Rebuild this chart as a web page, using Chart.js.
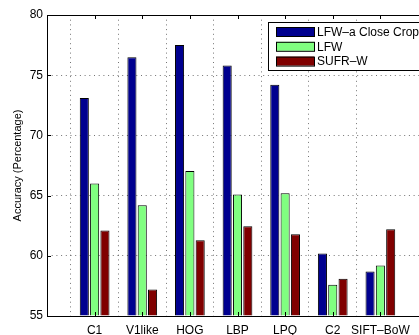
<!DOCTYPE html>
<html>
<head>
<meta charset="utf-8">
<script src="https://cdn.jsdelivr.net/npm/chart.js@4/dist/chart.umd.min.js"></script>
<style>
  html, body { margin: 0; padding: 0; background: #fff; }
  #wrap { width: 419px; height: 335px; overflow: hidden; position: relative; }
  canvas { display: block; }
</style>
</head>
<body>
<div id="wrap"><canvas id="c" width="460" height="335" style="width:460px;height:335px"></canvas></div>
<script>
// Face descriptors compared on three datasets
const categories = ['C1', 'V1like', 'HOG', 'LBP', 'LPQ', 'C2', 'SIFT–BoW'];
const seriesNames = ['LFW–a Close Crop', 'LFW', 'SUFR–W'];
const lfwCloseCrop = [73.1, 76.5, 77.5, 75.8, 74.2, 60.2, 58.7];
const lfw = [66.0, 64.2, 67.05, 65.1, 65.2, 57.6, 59.2];
const sufrW = [62.1, 57.2, 61.3, 62.45, 61.8, 58.1, 62.2];
const yTicks = [55, 60, 65, 70, 75, 80];
const seriesColors = ['#00008f', '#80ff80', '#800000'];

// one empty slot on each side so the bars sit one unit in from the frame
const pad = arr => [null, ...arr, null];
const labels = ['', ...categories, ''];
const values = [lfwCloseCrop, lfw, sufrW];

const FONT = 'Liberation Sans, Arial, Helvetica, sans-serif';

// Boxed axes frame with short inward ticks
const framePlugin = {
  id: 'frame',
  afterDatasetsDraw(chart) {
    const { ctx, chartArea: a, scales } = chart;
    ctx.save();
    ctx.strokeStyle = '#000';
    ctx.lineWidth = 1;
    ctx.beginPath();
    ctx.rect(Math.round(a.left) + 0.5, Math.round(a.top) + 0.5,
             Math.round(a.right - a.left), Math.round(a.bottom - a.top));
    ctx.stroke();
    const tl = 4;
    ctx.beginPath();
    yTicks.forEach(v => {
      const y = Math.round(scales.y.getPixelForValue(v)) + 0.5;
      ctx.moveTo(a.left, y); ctx.lineTo(a.left + tl, y);
      ctx.moveTo(a.right, y); ctx.lineTo(a.right - tl, y);
    });
    categories.forEach((c, i) => {
      const x = Math.round(scales.x.getPixelForValue(i + 1)) + 0.5;
      ctx.moveTo(x, a.top); ctx.lineTo(x, a.top + tl);
      ctx.moveTo(x, a.bottom); ctx.lineTo(x, a.bottom - tl);
    });
    ctx.stroke();
    ctx.restore();
  }
};

// Legend box in the upper right of the plot
const boxLegend = {
  id: 'boxLegend',
  afterDraw(chart, args, opts) {
    const { ctx } = chart;
    ctx.save();
    ctx.fillStyle = '#fff';
    ctx.strokeStyle = '#000';
    ctx.lineWidth = 1;
    ctx.fillRect(opts.x, opts.y, opts.w, opts.h);
    ctx.strokeRect(opts.x + 0.5, opts.y + 0.5, opts.w, opts.h);
    ctx.font = '12px ' + FONT;
    ctx.textBaseline = 'middle';
    chart.data.datasets.forEach((ds, i) => {
      const y = opts.y + opts.firstRow + i * opts.rowStep;
      ctx.fillStyle = ds.backgroundColor;
      ctx.fillRect(opts.x + opts.swX, y, opts.swW, opts.swH);
      ctx.strokeStyle = '#000';
      ctx.strokeRect(opts.x + opts.swX + 0.5, y + 0.5, opts.swW, opts.swH);
      ctx.fillStyle = '#000';
      ctx.fillText(ds.label, opts.x + opts.textX, y + opts.swH / 2 + 1);
    });
    ctx.restore();
  }
};

new Chart(document.getElementById('c'), {
  type: 'bar',
  data: {
    labels: labels,
    datasets: values.map((v, i) => ({
      label: seriesNames[i],
      data: pad(v),
      backgroundColor: seriesColors[i],
      borderColor: '#000',
      borderWidth: 1,
      borderSkipped: 'bottom',
      base: yTicks[0],
      categoryPercentage: 0.65,
      barPercentage: 0.88
    }))
  },
  options: {
    responsive: false,
    animation: false,
    devicePixelRatio: 1,
    layout: { padding: { left: 0, top: 15, right: 32, bottom: 0 } },
    plugins: {
      legend: { display: false },
      tooltip: { enabled: false },
      boxLegend: { x: 268, y: 22, w: 200, h: 48, swX: 8, swW: 38, swH: 9,
                   firstRow: 5, rowStep: 14.8, textX: 49 }
    },
    scales: {
      x: {
        offset: false,
        grid: {
          color: ctx => (ctx.index === 0 || ctx.index === labels.length - 1) ? 'rgba(0,0,0,0)' : 'rgba(0,0,0,0.55)',
          drawTicks: false
        },
        border: { display: false, dash: [1, 3.7] },
        ticks: { color: '#000', font: { family: FONT, size: 12 }, padding: 7, maxRotation: 0, autoSkip: false },
        afterFit: s => { s.height = 19; }
      },
      y: {
        min: yTicks[0],
        max: yTicks[yTicks.length - 1],
        afterBuildTicks: s => { s.ticks = yTicks.map(v => ({ value: v })); },
        grid: {
          color: ctx => (ctx.tick && (ctx.tick.value === yTicks[0] || ctx.tick.value === yTicks[yTicks.length - 1])) ? 'rgba(0,0,0,0)' : 'rgba(0,0,0,0.55)',
          drawTicks: false
        },
        border: { display: false, dash: [1, 3.7] },
        ticks: { color: '#000', font: { family: FONT, size: 12 }, padding: 4 },
        title: {
          display: true,
          text: 'Accuracy (Percentage)',
          color: '#000',
          font: { family: FONT, size: 11 },
          padding: { top: 11, bottom: 0 }
        },
        afterFit: s => { s.width = 47; }
      }
    }
  },
  plugins: [framePlugin, boxLegend]
});
</script>
</body>
</html>
